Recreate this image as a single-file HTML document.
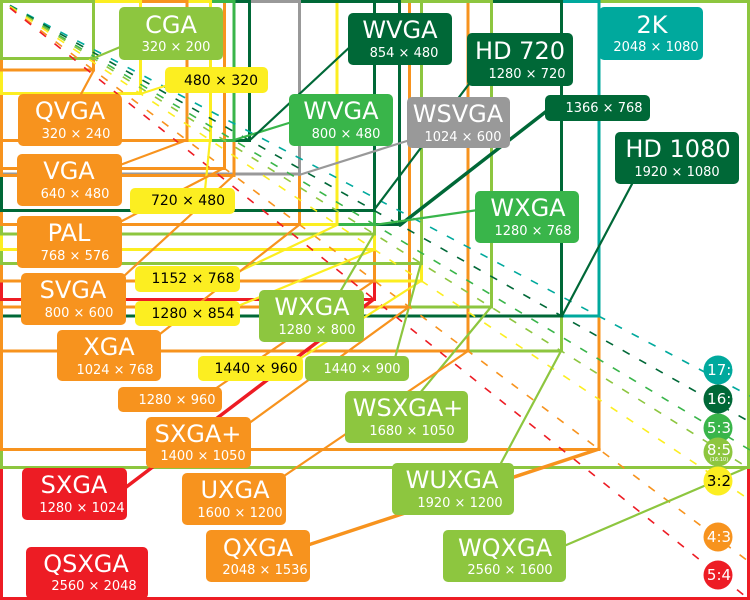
<!DOCTYPE html>
<html><head><meta charset="utf-8"><style>
html,body{margin:0;padding:0;background:#fff}
svg{display:block}
text{font-family:"DejaVu Sans","Liberation Sans",sans-serif;fill:#fff;text-anchor:middle}
.n{font-size:24px}
.s{font-size:13px}
.c{font-size:15px}
.b{font-size:14px;fill:#000}
</style></head><body>
<svg width="750" height="600" viewBox="0 0 750 600" xmlns="http://www.w3.org/2000/svg">
<g fill="none" stroke-width="3">
<rect x="1.5" y="1.5" width="747" height="597" stroke="#ed1c24"/>
<rect x="1.5" y="1.5" width="747" height="466" stroke="#8dc63f"/>
<rect x="1.5" y="1.5" width="597.5" height="448" stroke="#f7931e"/>
<rect x="1.5" y="1.5" width="560" height="349.5" stroke="#8dc63f"/>
<rect x="1.5" y="1.5" width="597.5" height="314.5" stroke="#00a99d"/>
<rect x="1.5" y="1.5" width="560" height="314.5" stroke="#006837"/>
<rect x="1.5" y="1.5" width="466.5" height="349.5" stroke="#f7931e"/>
<rect x="1.5" y="1.5" width="490" height="305.5" stroke="#8dc63f"/>
<rect x="1.5" y="1.5" width="408" height="305.5" stroke="#f7931e"/>
<rect x="1.5" y="1.5" width="373" height="298" stroke="#ed1c24"/>
<rect x="1.5" y="1.5" width="420" height="279.5" stroke="#fcee21"/>
<rect x="1.5" y="1.5" width="373" height="279.5" stroke="#f7931e"/>
<rect x="1.5" y="1.5" width="420" height="262" stroke="#8dc63f"/>
<rect x="1.5" y="1.5" width="373" height="248" stroke="#fcee21"/>
<rect x="1.5" y="1.5" width="373" height="232.5" stroke="#8dc63f"/>
<rect x="1.5" y="1.5" width="398" height="223" stroke="#006837"/>
<rect x="1.5" y="1.5" width="373" height="223" stroke="#39b54a"/>
<rect x="1.5" y="1.5" width="335.5" height="223" stroke="#fcee21"/>
<rect x="1.5" y="1.5" width="298" height="223" stroke="#f7931e"/>
<rect x="1.5" y="1.5" width="373" height="209" stroke="#006837"/>
<rect x="1.5" y="1.5" width="298" height="172.5" stroke="#999"/>
<rect x="1.5" y="1.5" width="232.5" height="174" stroke="#f7931e"/>
<rect x="1.5" y="1.5" width="223" height="167" stroke="#f7931e"/>
<rect x="1.5" y="1.5" width="248" height="139" stroke="#006837"/>
<rect x="1.5" y="1.5" width="232.5" height="139" stroke="#39b54a"/>
<rect x="1.5" y="1.5" width="209" height="139" stroke="#fcee21"/>
<rect x="1.5" y="1.5" width="185.5" height="139" stroke="#f7931e"/>
<rect x="1.5" y="1.5" width="139" height="92" stroke="#fcee21"/>
<rect x="1.5" y="1.5" width="92" height="68.5" stroke="#f7931e"/>
<rect x="1.5" y="1.5" width="92" height="57" stroke="#8dc63f"/>
</g>
<g stroke-width="1.6" stroke-dasharray="8 11" fill="none">
<line x1="10" y1="5.3" x2="750" y2="396" stroke="#00a99d"/>
<line x1="10" y1="5.6" x2="750" y2="422" stroke="#006837"/>
<line x1="10" y1="6" x2="750" y2="450" stroke="#39b54a"/>
<line x1="10" y1="6.25" x2="750" y2="469" stroke="#8dc63f"/>
<line x1="10" y1="6.67" x2="750" y2="500" stroke="#fcee21"/>
<line x1="10" y1="7.5" x2="750" y2="562.5" stroke="#f7931e"/>
<line x1="10" y1="8" x2="750" y2="600" stroke="#ed1c24"/>
</g>
<g stroke-width="2.2" stroke-linecap="round">
<line x1="94" y1="58" x2="125" y2="45" stroke="#8dc63f"/>
<line x1="94" y1="70" x2="80" y2="96" stroke="#f7931e"/>
<line x1="140" y1="94" x2="168" y2="85" stroke="#fcee21"/>
<line x1="187" y1="140" x2="120" y2="165" stroke="#f7931e"/>
<line x1="234" y1="140" x2="292" y2="122" stroke="#39b54a"/>
<line x1="250" y1="140" x2="352" y2="45" stroke="#006837"/>
<line x1="299" y1="175" x2="410" y2="140" stroke="#999"/>
<line x1="374" y1="210" x2="472" y2="80" stroke="#006837"/>
<line x1="400" y1="225" x2="548" y2="110" stroke="#006837" stroke-width="3.5"/>
<line x1="374" y1="225" x2="478" y2="210" stroke="#39b54a"/>
<line x1="210" y1="140" x2="205" y2="190" stroke="#fcee21"/>
<line x1="224" y1="168" x2="120" y2="222" stroke="#f7931e"/>
<line x1="234" y1="175" x2="124" y2="276" stroke="#f7931e"/>
<line x1="337" y1="225" x2="238" y2="272" stroke="#fcee21"/>
<line x1="374" y1="250" x2="238" y2="306" stroke="#fcee21"/>
<line x1="374" y1="234" x2="340" y2="292" stroke="#8dc63f"/>
<line x1="299" y1="225" x2="160" y2="334" stroke="#f7931e"/>
<line x1="421" y1="281" x2="298" y2="360" stroke="#fcee21"/>
<line x1="421" y1="263" x2="395" y2="358" stroke="#8dc63f"/>
<line x1="374" y1="281" x2="215" y2="389" stroke="#f7931e"/>
<line x1="409" y1="307" x2="248" y2="424" stroke="#f7931e"/>
<line x1="374" y1="299" x2="125" y2="488" stroke="#ed1c24" stroke-width="3.5"/>
<line x1="491" y1="307" x2="420" y2="393" stroke="#8dc63f"/>
<line x1="468" y1="351" x2="284" y2="476" stroke="#f7931e"/>
<line x1="561" y1="351" x2="500" y2="465" stroke="#8dc63f"/>
<line x1="599" y1="449" x2="308" y2="545" stroke="#f7931e" stroke-width="3.5"/>
<line x1="746" y1="468" x2="564" y2="546" stroke="#8dc63f"/>
<line x1="562" y1="316" x2="632" y2="184" stroke="#006837"/>
</g>
<g>
<rect x="119" y="7" width="104" height="53" rx="5" fill="#8dc63f"/><text class="n" x="171" y="33">CGA</text><text class="s" x="176" y="51">320 × 200</text>
<rect x="18" y="94" width="104" height="52" rx="5" fill="#f7931e"/><text class="n" x="70" y="119">QVGA</text><text class="s" x="76" y="138">320 × 240</text>
<rect x="165" y="67" width="103" height="26" rx="5" fill="#fcee21"/><text class="b" x="221" y="85">480 × 320</text>
<rect x="289" y="94" width="104" height="52" rx="5" fill="#39b54a"/><text class="n" x="341" y="119">WVGA</text><text class="s" x="346" y="138">800 × 480</text>
<rect x="348" y="13" width="104" height="52" rx="5" fill="#006837"/><text class="n" x="400" y="38">WVGA</text><text class="s" x="404" y="57">854 × 480</text>
<rect x="467" y="33" width="106" height="53" rx="5" fill="#006837"/><text class="n" x="520" y="59">HD 720</text><text class="s" x="527" y="78">1280 × 720</text>
<rect x="407" y="97" width="103" height="51" rx="5" fill="#999"/><text class="n" x="458" y="122">WSVGA</text><text class="s" x="463" y="141">1024 × 600</text>
<rect x="545" y="95" width="105" height="26" rx="5" fill="#006837"/><text class="s" x="604" y="112">1366 × 768</text>
<rect x="599" y="7" width="104" height="53" rx="5" fill="#00a99d"/><text class="n" x="652" y="33">2K</text><text class="s" x="656" y="51">2048 × 1080</text>
<rect x="615" y="132" width="124" height="52" rx="5" fill="#006837"/><text class="n" x="678" y="157">HD 1080</text><text class="s" x="677" y="176">1920 × 1080</text>
<rect x="17" y="154" width="105" height="52" rx="5" fill="#f7931e"/><text class="n" x="69" y="179">VGA</text><text class="s" x="75" y="198">640 × 480</text>
<rect x="130" y="188" width="105" height="26" rx="5" fill="#fcee21"/><text class="b" x="188" y="205">720 × 480</text>
<rect x="475" y="191" width="104" height="52" rx="5" fill="#39b54a"/><text class="n" x="528" y="216">WXGA</text><text class="s" x="533" y="235">1280 × 768</text>
<rect x="17" y="216" width="105" height="52" rx="5" fill="#f7931e"/><text class="n" x="69" y="241">PAL</text><text class="s" x="75" y="260">768 × 576</text>
<rect x="21" y="273" width="105" height="52" rx="5" fill="#f7931e"/><text class="n" x="73" y="298">SVGA</text><text class="s" x="79" y="317">800 × 600</text>
<rect x="135" y="266" width="105" height="26" rx="5" fill="#fcee21"/><text class="b" x="193" y="283">1152 × 768</text>
<rect x="135" y="301" width="105" height="25" rx="5" fill="#fcee21"/><text class="b" x="193" y="318">1280 × 854</text>
<rect x="259" y="290" width="105" height="52" rx="5" fill="#8dc63f"/><text class="n" x="312" y="315">WXGA</text><text class="s" x="317" y="334">1280 × 800</text>
<rect x="57" y="330" width="104" height="51" rx="5" fill="#f7931e"/><text class="n" x="109" y="355">XGA</text><text class="s" x="115" y="374">1024 × 768</text>
<rect x="198" y="356" width="105" height="25" rx="5" fill="#fcee21"/><text class="b" x="256" y="373">1440 × 960</text>
<rect x="305" y="356" width="104" height="25" rx="5" fill="#8dc63f"/><text class="s" x="362" y="373">1440 × 900</text>
<rect x="118" y="387" width="104" height="25" rx="5" fill="#f7931e"/><text class="s" x="177" y="404">1280 × 960</text>
<rect x="345" y="391" width="123" height="52" rx="5" fill="#8dc63f"/><text class="n" x="408" y="416">WSXGA+</text><text class="s" x="412" y="435">1680 × 1050</text>
<rect x="146" y="417" width="105" height="51" rx="5" fill="#f7931e"/><text class="n" x="198" y="442">SXGA+</text><text class="s" x="203" y="460">1400 × 1050</text>
<rect x="22" y="468" width="105" height="52" rx="5" fill="#ed1c24"/><text class="n" x="74" y="493">SXGA</text><text class="s" x="82" y="512">1280 × 1024</text>
<rect x="182" y="473" width="104" height="52" rx="5" fill="#f7931e"/><text class="n" x="235" y="498">UXGA</text><text class="s" x="240" y="517">1600 × 1200</text>
<rect x="392" y="463" width="122" height="52" rx="5" fill="#8dc63f"/><text class="n" x="452" y="488">WUXGA</text><text class="s" x="460" y="507">1920 × 1200</text>
<rect x="206" y="530" width="104" height="52" rx="5" fill="#f7931e"/><text class="n" x="258" y="556">QXGA</text><text class="s" x="265" y="574">2048 × 1536</text>
<rect x="26" y="547" width="122" height="52" rx="5" fill="#ed1c24"/><text class="n" x="86" y="572">QSXGA</text><text class="s" x="94" y="590">2560 × 2048</text>
<rect x="443" y="530" width="123" height="52" rx="5" fill="#8dc63f"/><text class="n" x="505" y="556">WQXGA</text><text class="s" x="510" y="574">2560 × 1600</text>
</g>
<g>
<circle cx="718" cy="370" r="14.5" fill="#00a99d"/><text class="c" x="724" y="375">17:9</text>
<circle cx="718" cy="399" r="14.5" fill="#006837"/><text class="c" x="724" y="404">16:9</text>
<circle cx="718" cy="428" r="14.5" fill="#39b54a"/><text class="c" x="719" y="433">5:3</text>
<circle cx="718" cy="452" r="14.5" fill="#8dc63f"/><text class="c" x="719" y="455">8:5</text><text x="719" y="461" style="font-size:5px">(16:10)</text>
<circle cx="718" cy="481" r="14.5" fill="#fcee21"/><text class="c" x="719" y="486" style="fill:#000">3:2</text>
<circle cx="718" cy="537" r="14.5" fill="#f7931e"/><text class="c" x="719" y="542">4:3</text>
<circle cx="718" cy="575" r="14.5" fill="#ed1c24"/><text class="c" x="719" y="580">5:4</text>
</g>
</svg>
</body></html>
